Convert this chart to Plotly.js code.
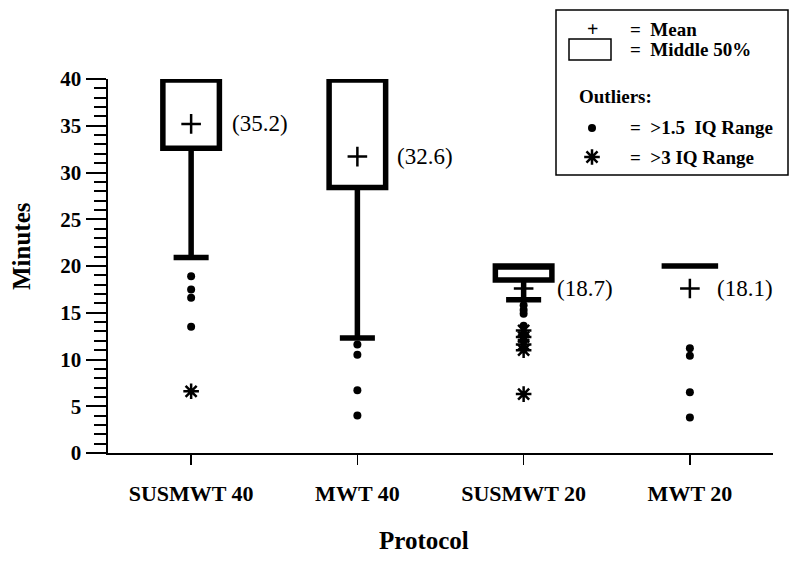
<!DOCTYPE html>
<html>
<head>
<meta charset="utf-8">
<script src="https://cdn.plot.ly/plotly-3.0.1.min.js"></script>
<style>html,body{margin:0;padding:0;background:#fff}#chart{width:800px;height:561px}</style>
</head>
<body>
<div id="chart"></div>
<script>
// ---- data ----
const categories = ['SUSMWT 40', 'MWT 40', 'SUSMWT 20', 'MWT 20'];
const q1 = [32.6, 28.4, 18.5, 20];
const median = [40, 40, 20, 20];
const q3 = [40, 40, 20, 20];
const lowerFence = [20.9, 12.3, 16.4, 20];
const upperFence = [40, 40, 20, 20];
const meanMarker = [35.2, 31.7, 17.6, 17.6];
const meanLabels = ['(35.2)', '(32.6)', '(18.7)', '(18.1)'];
const mildOutliers = [
  [18.9, 17.5, 16.6, 13.5],
  [11.6, 10.5, 6.7, 4.0],
  [15.8, 15.3, 14.9, 13.6, 12.7, 12.1],
  [11.2, 10.4, 6.5, 3.8]
];
const extremeOutliers = [
  [6.6],
  [],
  [13.1, 12.4, 11.6, 11.0, 6.3],
  []
];
const yTickVals = [0, 5, 10, 15, 20, 25, 30, 35, 40];
const xTitle = 'Protocol';
const yTitle = 'Minutes';

// ---- styling / layout constants ----
const serif = 'Liberation Serif, Times New Roman, serif';
const M = {l: 108, r: 27, t: 79, b: 108};
const W = 800, H = 561;
const plotW = W - M.l - M.r, plotH = H - M.t - M.b;
const px = v => (v - M.l) / plotW;
const py = v => (H - M.b - v) / plotH;
const labelShift = [39, 38, 31, 25];

function flatten(groups) {
  const xs = [], ys = [];
  groups.forEach((g, i) => g.forEach(v => { xs.push(categories[i]); ys.push(v); }));
  return {xs, ys};
}
const mild = flatten(mildOutliers);
const ext = flatten(extremeOutliers);

const symPlus = {symbol: 'cross-thin-open', color: 'black'};
const symDot = {symbol: 'circle', color: 'black'};
const symStar = {symbol: 'asterisk-open', color: 'black'};

function keyMark(x, y, sym, size, lw) {
  return {
    type: 'scatter', mode: 'markers', xaxis: 'x2', yaxis: 'y2', cliponaxis: false,
    x: [x], y: [y],
    marker: Object.assign({}, sym, {size: size, line: {color: 'black', width: lw}}),
    showlegend: false, hoverinfo: 'skip'
  };
}

const traces = [
  {
    type: 'box', x: categories, q1: q1, median: median, q3: q3,
    lowerfence: lowerFence, upperfence: upperFence,
    boxpoints: false, width: 0.34, whiskerwidth: 0.62,
    fillcolor: 'white', line: {color: 'black', width: 5.5},
    showlegend: false, hoverinfo: 'skip'
  },
  {
    type: 'scatter', mode: 'markers', x: categories, y: meanMarker,
    marker: Object.assign({}, symPlus, {size: 14, line: {color: 'black', width: 2.5}}),
    showlegend: false, hoverinfo: 'skip'
  },
  {
    type: 'scatter', mode: 'markers', x: mild.xs, y: mild.ys,
    marker: Object.assign({}, symDot, {size: 8, line: {color: 'black', width: 0}}),
    showlegend: false, hoverinfo: 'skip'
  },
  {
    type: 'scatter', mode: 'markers', x: ext.xs, y: ext.ys,
    marker: Object.assign({}, symStar, {size: 13, line: {color: 'black', width: 2.5}}),
    showlegend: false, hoverinfo: 'skip'
  },
  // key symbols, drawn on a hidden pixel-scaled overlay axis
  keyMark(592, 128, symDot, 8, 0),
  keyMark(592, 157, symStar, 13, 2.5)
];

const annotations = categories.map((c, i) => ({
  x: c, y: meanMarker[i], xref: 'x', yref: 'y', text: meanLabels[i],
  xanchor: 'left', yanchor: 'middle', xshift: labelShift[i], showarrow: false,
  font: {family: serif, size: 23, color: 'black'}
}));

// axis titles
annotations.push({
  xref: 'paper', yref: 'paper', x: px(424), y: py(540), text: xTitle,
  xanchor: 'center', yanchor: 'middle', showarrow: false,
  font: {family: serif, size: 25, color: 'black', weight: 'bold'}
});
annotations.push({
  xref: 'paper', yref: 'paper', x: px(21), y: py(246), text: yTitle, textangle: -90,
  xanchor: 'center', yanchor: 'middle', showarrow: false,
  font: {family: serif, size: 25, color: 'black', weight: 'bold'}
});

const legFont = {family: serif, size: 19, color: 'black', weight: 'bold'};
const legText = [
  {x: 592, y: 29, t: '+', anchor: 'center', font: {family: serif, size: 20, color: 'black', weight: 'bold'}},
  {x: 628, y: 30, t: '=\u00a0\u00a0Mean'},
  {x: 628, y: 50, t: '=\u00a0\u00a0Middle 50%'},
  {x: 577, y: 97, t: 'Outliers:'},
  {x: 628, y: 128, t: '=\u00a0\u00a0>1.5\u00a0\u00a0IQ Range'},
  {x: 628, y: 157, t: '=\u00a0\u00a0>3 IQ Range'}
];
legText.forEach(o => annotations.push({
  xref: 'paper', yref: 'paper', x: px(o.x), y: py(o.y), text: o.t,
  xanchor: o.anchor || 'left', yanchor: 'middle', showarrow: false, font: o.font || legFont
}));

const shapes = [
  {type: 'rect', xref: 'paper', yref: 'paper', x0: px(556), x1: px(788), y0: py(10), y1: py(175),
   line: {color: 'black', width: 1.5}, layer: 'below'},
  {type: 'rect', xref: 'paper', yref: 'paper', x0: px(569), x1: px(611), y0: py(39), y1: py(60),
   line: {color: 'black', width: 1.5}}
];

const layout = {
  width: W, height: H,
  margin: M,
  paper_bgcolor: 'white', plot_bgcolor: 'white',
  showlegend: false,
  xaxis: {
    type: 'category', range: [-0.5, 3.5], fixedrange: true,
    showline: true, linecolor: 'black', linewidth: 2,
    ticks: 'outside', ticklen: 10, tickwidth: 1.5, tickcolor: 'black',
    ticklabelstandoff: 10,
    tickfont: {family: serif, size: 22, color: 'black', weight: 'bold'},
    showgrid: false, zeroline: false, automargin: false
  },
  yaxis: {
    range: [0, 40], fixedrange: true,
    tickvals: yTickVals, ticktext: yTickVals.map(String),
    showline: true, linecolor: 'black', linewidth: 2.5,
    ticks: 'outside', ticklen: 20, tickwidth: 2, tickcolor: 'black',
    minor: {dtick: 1, tick0: 0, ticks: 'outside', ticklen: 12, tickwidth: 2, tickcolor: 'black', showgrid: false},
    tickfont: {family: serif, size: 21, color: 'black', weight: 'bold'},
    showgrid: false, zeroline: false, automargin: false
  },
  xaxis2: {overlaying: 'x', range: [M.l, W - M.r], visible: false, fixedrange: true},
  yaxis2: {overlaying: 'y', range: [H - M.b, M.t], visible: false, fixedrange: true},
  annotations: annotations,
  shapes: shapes
};

Plotly.newPlot('chart', traces, layout, {staticPlot: true, displayModeBar: false});
</script>
</body>
</html>
